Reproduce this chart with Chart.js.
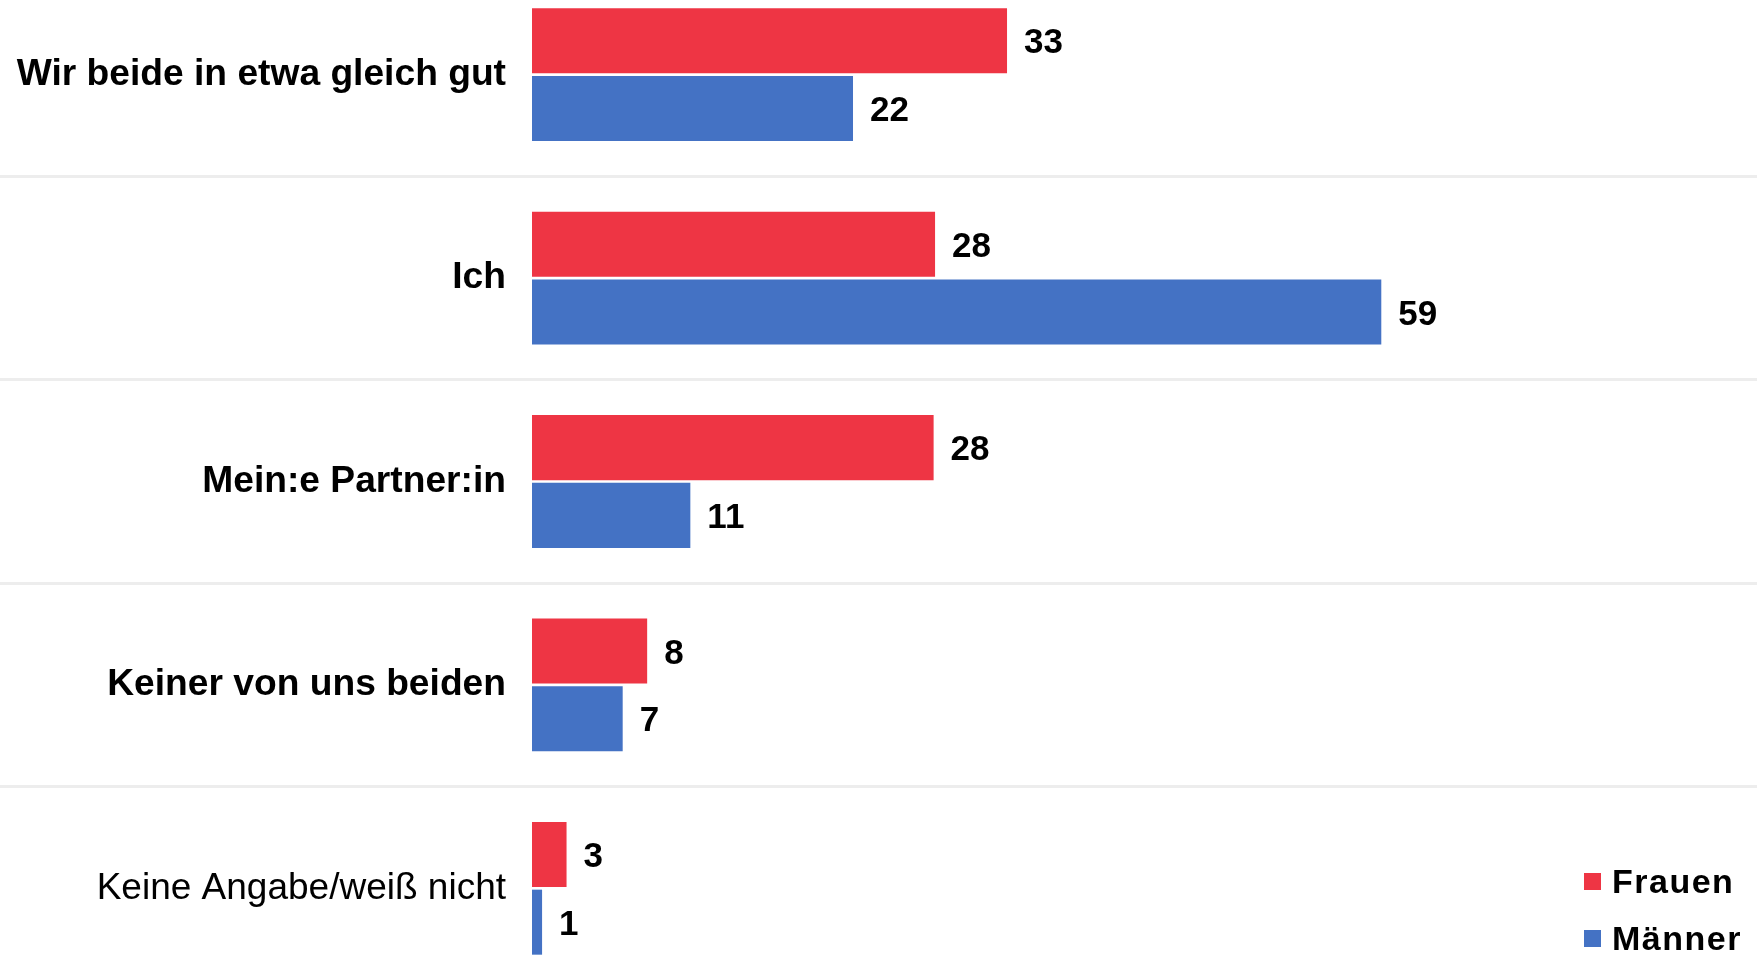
<!DOCTYPE html>
<html lang="de">
<head>
<meta charset="utf-8">
<title>Wer kann das besser?</title>
<script src="https://cdn.jsdelivr.net/npm/chart.js@4/dist/chart.umd.min.js"></script>
<style>
    html, body { margin: 0; padding: 0; background: #fff; overflow: hidden; width: 1757px; height: 955px; }
    #chartWrap { position: absolute; left: 0; top: -27px; width: 1757px; height: 1017px; }
    #chartLegend { position: absolute; left: 1584px; top: 853px; font-family: "Liberation Sans", Arial, sans-serif; }
    .legend-item { display: flex; align-items: center; height: 57px; font-size: 34px; font-weight: bold; letter-spacing: 1.5px; color: #000; }
    .legend-box { width: 17px; height: 17px; margin-right: 11px; }
</style>
</head>
<body>
<div id="chartWrap"><canvas id="answerChart" width="1757" height="1017"></canvas></div>
<div id="chartLegend"></div>

<script>
// ------------------- Data -------------------
const categories = ['Wir beide in etwa gleich gut', 'Ich', 'Mein:e Partner:in', 'Keiner von uns beiden', 'Keine Angabe/weiß nicht'];
const seriesNames = ['Frauen', 'Männer'];
// bar lengths as drawn in the picture
const frauenValues = [33, 28, 27.9, 8, 2.4];
const maennerValues = [22.3, 59, 11, 6.3, 0.7];
// numbers printed next to the bars
const frauenLabels = ['33', '28', '28', '8', '3'];
const maennerLabels = ['22', '59', '11', '7', '1'];
const seriesColors = ['#ee3544', '#4472c4'];

const FONT = '"Liberation Sans", Arial, sans-serif';
const AXIS_WIDTH = 532;   // left edge of the bars
const LABEL_GAP = 26;     // gap between category label and bars

// ------------------- Value labels at bar ends -------------------
const valueLabels = {
    id: 'valueLabels',
    afterDatasetsDraw(chart) {
        const ctx = chart.ctx;
        ctx.save();
        ctx.font = `bold 35px ${FONT}`;
        ctx.fillStyle = '#000';
        ctx.textAlign = 'left';
        ctx.textBaseline = 'middle';
        chart.data.datasets.forEach((ds, i) => {
            chart.getDatasetMeta(i).data.forEach((bar, j) => {
                ctx.fillText(ds.valueLabels[j], bar.x + 17, bar.y + 3);
            });
        });
        ctx.restore();
    }
};

// ------------------- Chart -------------------
function initAnswerChart() {
    const canvas = document.getElementById('answerChart');
    const chart = new Chart(canvas.getContext('2d'), {
        type: 'bar',
        data: {
            labels: categories,
            datasets: [
                { label: seriesNames[0], data: frauenValues, valueLabels: frauenLabels, backgroundColor: seriesColors[0] },
                { label: seriesNames[1], data: maennerValues, valueLabels: maennerLabels, backgroundColor: seriesColors[1] }
            ]
        },
        options: {
            indexAxis: 'y',
            responsive: false,
            animation: false,
            devicePixelRatio: 1,
            categoryPercentage: 0.666,
            barPercentage: 0.96,
            layout: { padding: 0 },
            plugins: {
                legend: { display: false },
                tooltip: { enabled: false }
            },
            scales: {
                x: {
                    display: false,
                    min: 0,
                    max: 85.1
                },
                y: {
                    border: { display: false },
                    grid: {
                        color: '#ededed',
                        tickColor: '#ededed',
                        lineWidth: 3,
                        tickLength: AXIS_WIDTH
                    },
                    ticks: {
                        color: '#000',
                        padding: -(AXIS_WIDTH - LABEL_GAP),
                        font: (c) => c.index === 4
                            ? { family: FONT, size: 37, weight: 'normal' }
                            : { family: FONT, size: 37.2, weight: 'bold' }
                    },
                    afterFit(scale) { scale.width = AXIS_WIDTH; }
                }
            }
        },
        plugins: [valueLabels]
    });
    buildLegend(chart);
}

// ------------------- Legend -------------------
function buildLegend(chart) {
    const legend = document.getElementById('chartLegend');
    legend.innerHTML = '';
    chart.data.datasets.forEach(ds => {
        const item = document.createElement('div');
        item.className = 'legend-item';
        item.innerHTML = `<span class="legend-box" style="background:${ds.backgroundColor}"></span><span>${ds.label}</span>`;
        legend.appendChild(item);
    });
}

initAnswerChart();
</script>
</body>
</html>
